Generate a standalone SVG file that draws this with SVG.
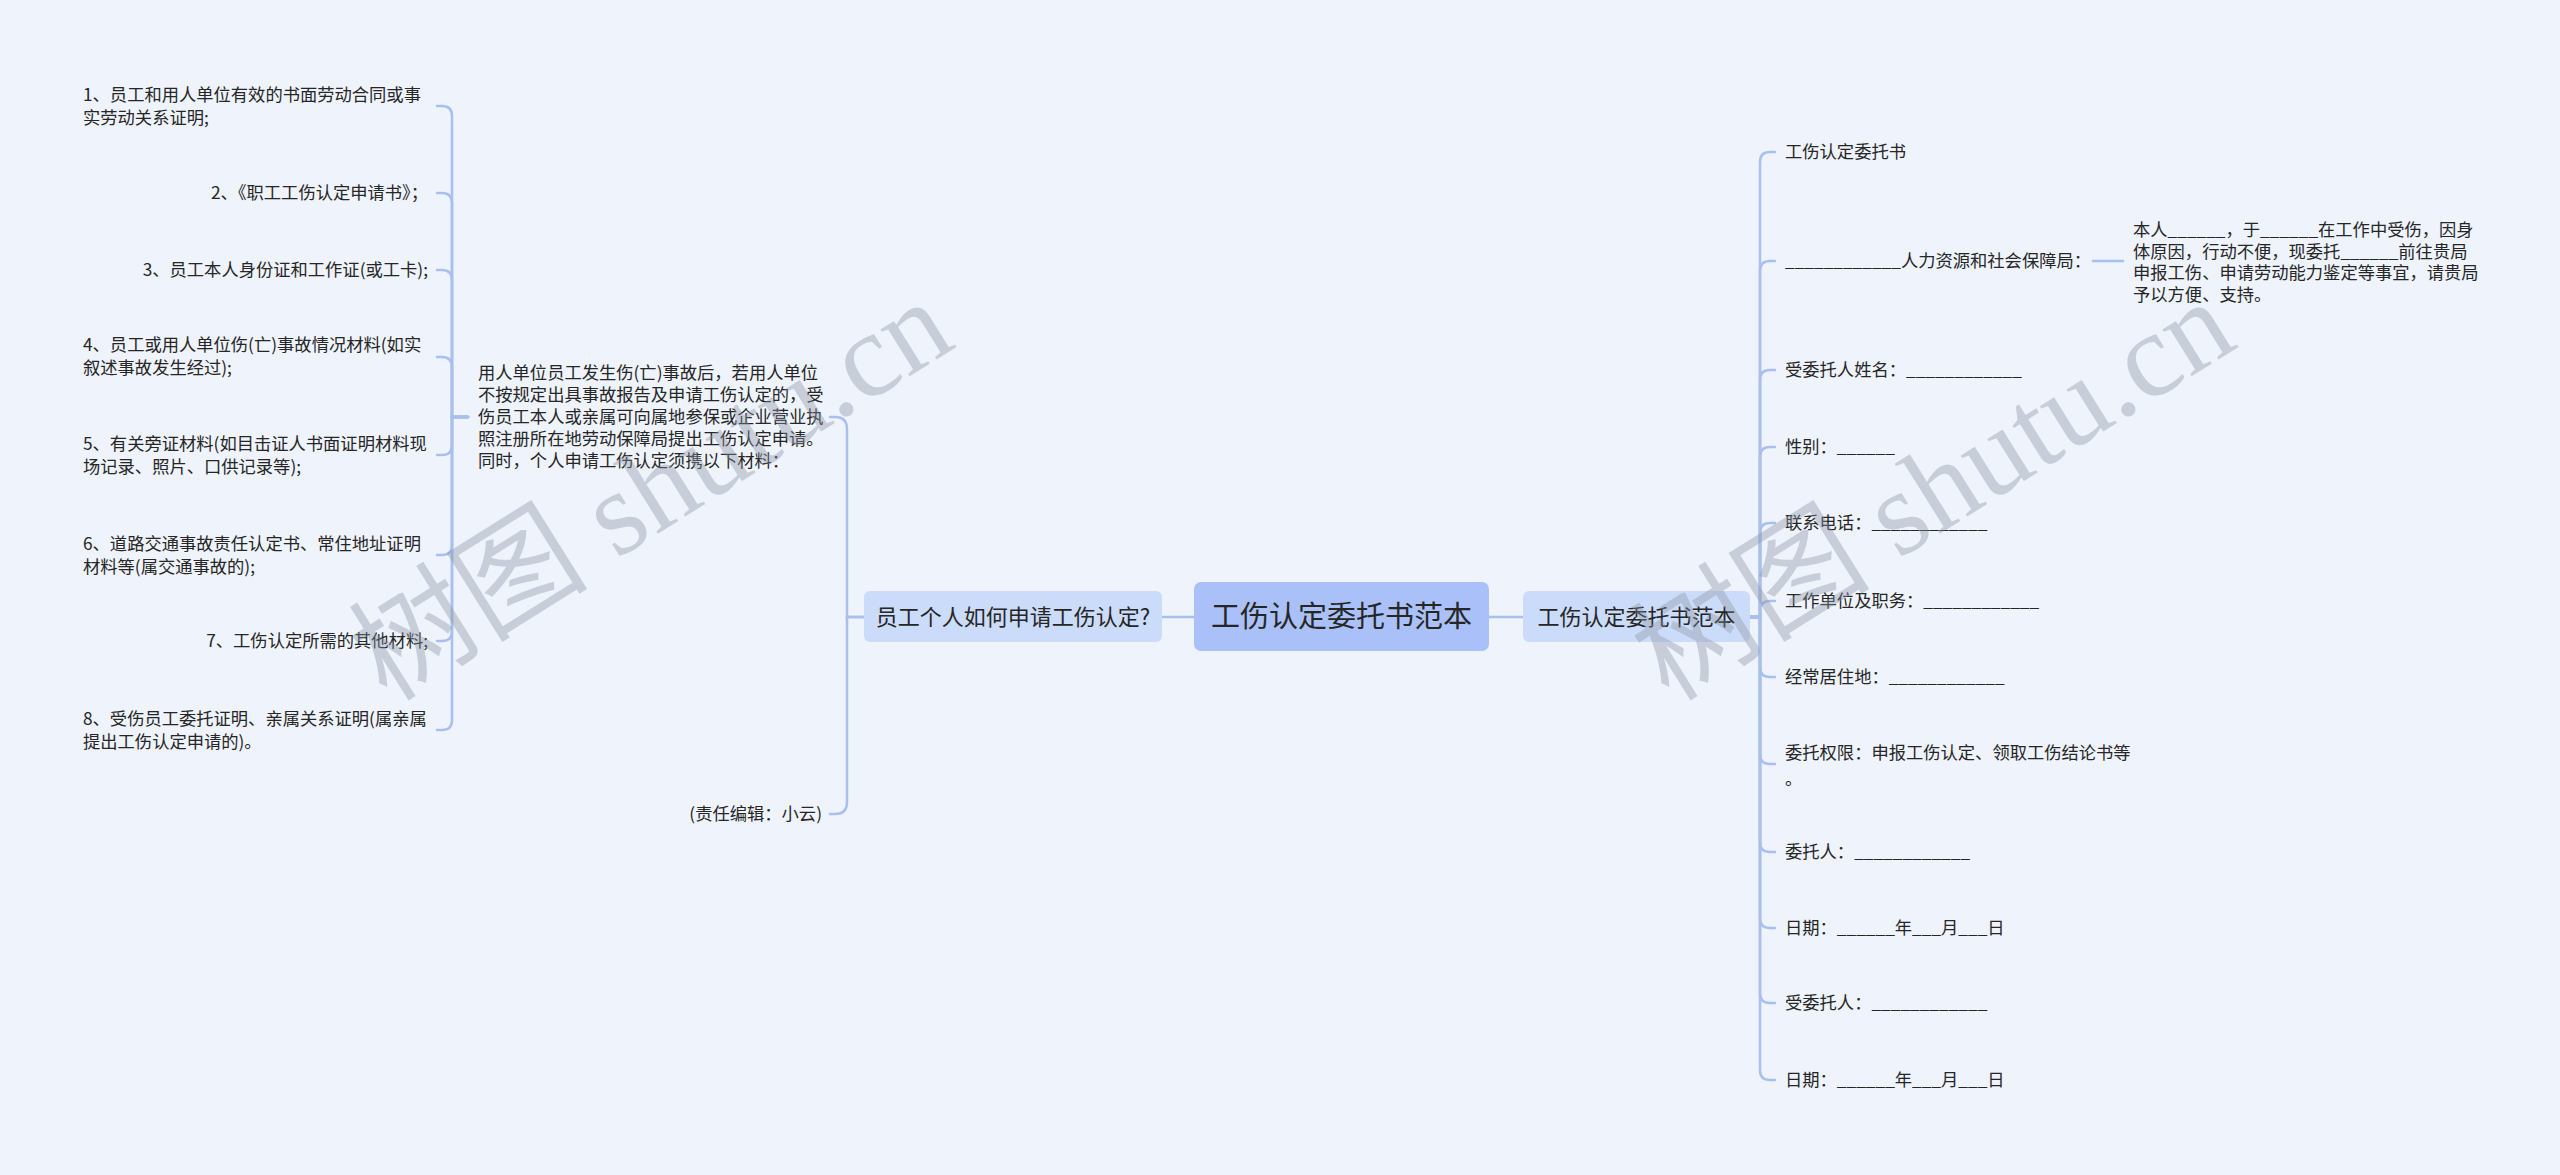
<svg xmlns="http://www.w3.org/2000/svg" width="2560" height="1175" viewBox="0 0 2560 1175">
<defs>
<style>
text{font-family:"Noto Sans CJK SC","Microsoft YaHei",sans-serif;fill:#262626;}
.t{font-size:17.3px;}
.n2{font-size:22px;}
.root{font-size:29px;}
.c{fill:none;stroke:#a9c0ef;stroke-width:2.5;stroke-linecap:round;}
.wm{font-family:"Liberation Serif","Noto Sans CJK SC",serif;font-size:120px;fill:#8c93a0;fill-opacity:0.38;}
</style>
</defs>
<rect x="0" y="0" width="2560" height="1175" fill="#eef3fc"/>

<g id="connectors">
<path class="c" d="M1194,617 H1162"/>
<path class="c" d="M1489,617 H1523"/>
<path class="c" d="M864,617 H847 V429 Q847,417 835,417 H830"/>
<path class="c" d="M864,617 H847 V802 Q847,814 835,814 H830"/>
<path class="c" d="M468,417 H452 V116 Q452,106 442,106 H437"/>
<path class="c" d="M468,417 H452 V203 Q452,193 442,193 H437"/>
<path class="c" d="M468,417 H452 V280 Q452,270 442,270 H437"/>
<path class="c" d="M468,417 H452 V367 Q452,357 442,357 H437"/>
<path class="c" d="M468,417 H452 V445 Q452,455 442,455 H437"/>
<path class="c" d="M468,417 H452 V545 Q452,555 442,555 H437"/>
<path class="c" d="M468,417 H452 V631 Q452,641 442,641 H437"/>
<path class="c" d="M468,417 H452 V720 Q452,730 442,730 H437"/>
<path class="c" d="M1750,617 H1760 V162 Q1760,152 1770,152 H1775"/>
<path class="c" d="M1750,617 H1760 V271 Q1760,261 1770,261 H1775"/>
<path class="c" d="M1750,617 H1760 V380 Q1760,370 1770,370 H1775"/>
<path class="c" d="M1750,617 H1760 V457 Q1760,447 1770,447 H1775"/>
<path class="c" d="M1750,617 H1760 V533 Q1760,523 1770,523 H1775"/>
<path class="c" d="M1750,617 H1760 V611 Q1760,601 1770,601 H1775"/>
<path class="c" d="M1750,617 H1760 V667 Q1760,677 1770,677 H1775"/>
<path class="c" d="M1750,617 H1760 V754 Q1760,764 1770,764 H1775"/>
<path class="c" d="M1750,617 H1760 V842 Q1760,852 1770,852 H1775"/>
<path class="c" d="M1750,617 H1760 V918 Q1760,928 1770,928 H1775"/>
<path class="c" d="M1750,617 H1760 V993 Q1760,1003 1770,1003 H1775"/>
<path class="c" d="M1750,617 H1760 V1070 Q1760,1080 1770,1080 H1775"/>
<path class="c" d="M2093,261 H2123"/>
</g>

<g id="root">
<rect x="1194" y="582" width="295" height="69" rx="7" fill="#a9c1f8"/>
<text class="root" x="1341.5" y="627" text-anchor="middle">工伤认定委托书范本</text>
</g>

<g id="left-branch">
<rect x="864" y="591" width="298" height="51" rx="6" fill="#cbdbfa"/>
<text class="n2" x="1013" y="624.5" text-anchor="middle">员工个人如何申请工伤认定?</text>
</g>

<g id="left-paragraph">
<text class="t" x="478" y="379">用人单位员工发生伤(亡)事故后，若用人单位</text>
<text class="t" x="478" y="401">不按规定出具事故报告及申请工伤认定的，受</text>
<text class="t" x="478" y="423">伤员工本人或亲属可向属地参保或企业营业执</text>
<text class="t" x="478" y="445">照注册所在地劳动保障局提出工伤认定申请。</text>
<text class="t" x="478" y="467">同时，个人申请工伤认定须携以下材料：</text>
</g>

<g id="left-editor">
<text class="t" x="822" y="820" text-anchor="end">(责任编辑：小云)</text>
</g>

<g id="item-1">
<text class="t" x="83" y="101">1、员工和用人单位有效的书面劳动合同或事</text>
<text class="t" x="83" y="124">实劳动关系证明;</text>
</g>
<g id="item-2">
<text class="t" x="428" y="199" text-anchor="end">2、《职工工伤认定申请书》；</text>
</g>
<g id="item-3">
<text class="t" x="428" y="276" text-anchor="end">3、员工本人身份证和工作证(或工卡);</text>
</g>
<g id="item-4">
<text class="t" x="83" y="351">4、员工或用人单位伤(亡)事故情况材料(如实</text>
<text class="t" x="83" y="374">叙述事故发生经过);</text>
</g>
<g id="item-5">
<text class="t" x="83" y="450">5、有关旁证材料(如目击证人书面证明材料现</text>
<text class="t" x="83" y="473">场记录、照片、口供记录等);</text>
</g>
<g id="item-6">
<text class="t" x="83" y="550">6、道路交通事故责任认定书、常住地址证明</text>
<text class="t" x="83" y="573">材料等(属交通事故的);</text>
</g>
<g id="item-7">
<text class="t" x="428" y="647" text-anchor="end">7、工伤认定所需的其他材料;</text>
</g>
<g id="item-8">
<text class="t" x="83" y="725">8、受伤员工委托证明、亲属关系证明(属亲属</text>
<text class="t" x="83" y="748">提出工伤认定申请的)。</text>
</g>

<g id="right-branch">
<rect x="1523" y="591" width="227" height="51" rx="6" fill="#cbdbfa"/>
<text class="n2" x="1636.5" y="624.5" text-anchor="middle">工伤认定委托书范本</text>
</g>

<g id="r-title"><text class="t" x="1785" y="158">工伤认定委托书</text></g>
<g id="r-bureau"><text class="t" x="1785" y="267">____________人力资源和社会保障局：</text></g>
<g id="r-bureau-body">
<text class="t" x="2133" y="236">本人______，于______在工作中受伤，因身</text>
<text class="t" x="2133" y="258">体原因，行动不便，现委托______前往贵局</text>
<text class="t" x="2133" y="279">申报工伤、申请劳动能力鉴定等事宜，请贵局</text>
<text class="t" x="2133" y="301">予以方便、支持。</text>
</g>
<g id="r-name"><text class="t" x="1785" y="376">受委托人姓名：____________</text></g>
<g id="r-sex"><text class="t" x="1785" y="453">性别：______</text></g>
<g id="r-phone"><text class="t" x="1785" y="529">联系电话：____________</text></g>
<g id="r-work"><text class="t" x="1785" y="607">工作单位及职务：____________</text></g>
<g id="r-addr"><text class="t" x="1785" y="683">经常居住地：____________</text></g>
<g id="r-scope">
<text class="t" x="1785" y="759">委托权限：申报工伤认定、领取工伤结论书等</text>
<text class="t" x="1785" y="785">。</text>
</g>
<g id="r-client"><text class="t" x="1785" y="858">委托人：____________</text></g>
<g id="r-date1"><text class="t" x="1785" y="934">日期：______年___月___日</text></g>
<g id="r-agent"><text class="t" x="1785" y="1009">受委托人：____________</text></g>
<g id="r-date2"><text class="t" x="1785" y="1086">日期：______年___月___日</text></g>

<g id="watermarks">
<text class="wm" x="653" y="530" text-anchor="middle" transform="rotate(-32 653 493)">树图 shutu.cn</text>
<text class="wm" x="1935" y="530" text-anchor="middle" transform="rotate(-32 1935 493)">树图 shutu.cn</text>
</g>
</svg>
